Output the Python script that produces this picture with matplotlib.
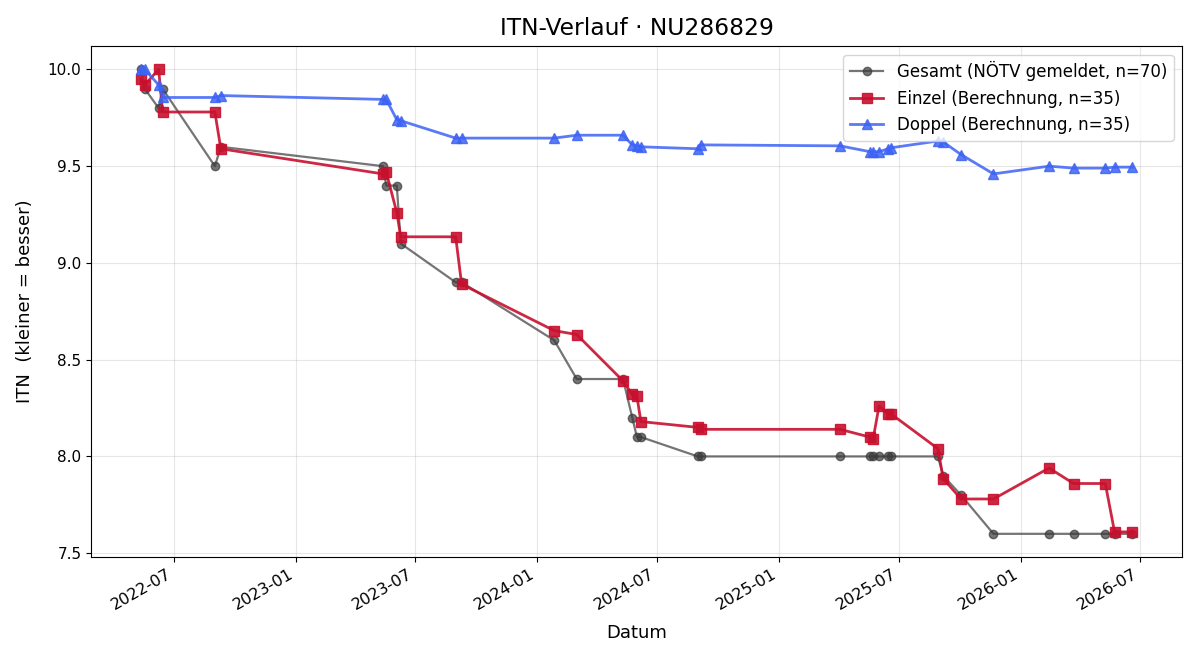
import matplotlib
matplotlib.use("Agg")
import matplotlib.pyplot as plt
import matplotlib.dates as mdates
import numpy as np
import pandas as pd

# Spieltermine (gemeinsam fuer Einzel und Doppel)
dates = pd.to_datetime([
    "2022-05-12", "2022-05-18", "2022-06-08", "2022-06-14", "2022-09-01",
    "2022-09-10", "2023-05-13", "2023-05-18", "2023-06-03", "2023-06-09",
    "2023-08-31", "2023-09-09", "2024-01-27", "2024-03-01", "2024-05-10",
    "2024-05-24", "2024-05-31", "2024-06-06", "2024-08-31", "2024-09-05",
    "2025-04-03", "2025-05-18", "2025-05-23", "2025-06-01", "2025-06-15",
    "2025-06-19", "2025-08-29", "2025-09-06", "2025-10-03", "2025-11-21",
    "2026-02-13", "2026-03-22", "2026-05-09", "2026-05-23", "2026-06-19",
])

gesamt = [10.0, 9.9, 9.8, 9.9, 9.5,
          9.6, 9.5, 9.4, 9.4, 9.1,
          8.9, 8.9, 8.6, 8.4, 8.4,
          8.2, 8.1, 8.1, 8.0, 8.0,
          8.0, 8.0, 8.0, 8.0, 8.0,
          8.0, 8.0, 7.9, 7.8, 7.6,
          7.6, 7.6, 7.6, 7.6, 7.6]

einzel = [9.95, 9.92, 10.0, 9.78, 9.78,
          9.59, 9.46, 9.47, 9.26, 9.135,
          9.135, 8.89, 8.65, 8.63, 8.39,
          8.32, 8.31, 8.18, 8.15, 8.14,
          8.14, 8.10, 8.09, 8.26, 8.22,
          8.22, 8.04, 7.885, 7.78, 7.78,
          7.94, 7.86, 7.86, 7.61, 7.61]

doppel = [10.0, 10.0, 9.92, 9.855, 9.855,
          9.865, 9.845, 9.845, 9.74, 9.735,
          9.645, 9.645, 9.645, 9.66, 9.66,
          9.61, 9.605, 9.60, 9.59, 9.61,
          9.605, 9.575, 9.575, 9.575, 9.59,
          9.595, 9.63, 9.625, 9.56, 9.46,
          9.50, 9.49, 9.49, 9.495, 9.495]


def main():
    fig, ax = plt.subplots(figsize=(12, 6.6), dpi=100)

    ax.plot(dates, gesamt, color='#3a3a3a', marker='o', ms=6, lw=1.6,
            alpha=0.7, label='Gesamt (NÖTV gemeldet, n=70)')
    ax.plot(dates, einzel, color='#c8102e', marker='s', ms=7, lw=2.0,
            alpha=0.9, label='Einzel (Berechnung, n=35)')
    ax.plot(dates, doppel, color='#3d63f5', marker='^', ms=7, lw=2.0,
            alpha=0.85, label='Doppel (Berechnung, n=35)')

    ax.set_title('ITN-Verlauf · NU286829', fontsize=16.8, pad=8)
    ax.set_xlabel('Datum', fontsize=13, labelpad=8)
    ax.set_ylabel('ITN  (kleiner = besser)', fontsize=13, labelpad=10)
    ax.grid(True, alpha=0.3)
    ax.legend(loc='upper right', fontsize=12)

    ax.xaxis.set_major_locator(mdates.MonthLocator(bymonth=[1, 7]))
    ax.xaxis.set_major_formatter(mdates.DateFormatter('%Y-%m'))
    ax.tick_params(axis='x', labelsize=11.5)
    ax.tick_params(axis='y', labelsize=11)
    fig.autofmt_xdate()

    fig.subplots_adjust(left=0.076, right=0.985, top=0.930, bottom=0.156)
    fig.savefig('out.png')


if(__name__ == "__main__"):
    main()
